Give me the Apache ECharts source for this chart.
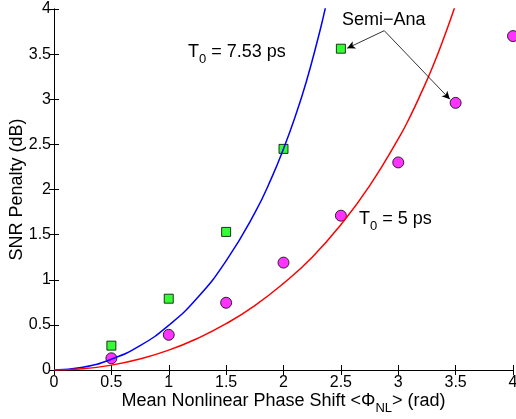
<!DOCTYPE html>
<html><head><meta charset="utf-8">
<script src="https://cdn.jsdelivr.net/npm/echarts@6/dist/echarts.min.js"></script>
<style>html,body{margin:0;padding:0;background:#fff}#c{width:516px;height:419px}</style>
</head><body><div id="c"></div>
<script>
// Measured points (Semi-Ana)
const squareX = [0.5, 1, 1.5, 2, 2.5];
const squareY = [0.27, 0.79, 1.53, 2.45, 3.56];
const circleX = [0.5, 1, 1.5, 2, 2.5, 3, 3.5, 4];
const circleY = [0.13, 0.39, 0.745, 1.19, 1.71, 2.30, 2.96, 3.70];
// Curves
const blueX = [0, 0.25, 0.5, 0.75, 1, 1.25, 1.5, 1.75, 1.9, 2, 2.1, 2.2, 2.3, 2.35, 2.4];
const blueY = [0, 0.03, 0.12, 0.27, 0.495, 0.80, 1.21, 1.74, 2.14, 2.45, 2.80, 3.20, 3.67, 3.93, 4.21];
const redX = [0, 0.25, 0.5, 0.75, 1, 1.25, 1.5, 1.75, 2, 2.25, 2.5, 2.75, 3, 3.1, 3.2, 3.3, 3.4, 3.5, 3.6];
const redY = [0, 0.013, 0.054, 0.123, 0.22, 0.35, 0.513, 0.714, 0.96, 1.25, 1.61, 2.04, 2.56, 2.80, 3.07, 3.36, 3.69, 4.05, 4.46];
const xTicks = [0, 0.5, 1, 1.5, 2, 2.5, 3, 3.5, 4];
const yTicks = [0, 0.5, 1, 1.5, 2, 2.5, 3, 3.5, 4];
// Annotation arrows: [from, to]
const arrowFrom = [2.878, 3.76];
const arrowTo1 = [2.555, 3.565];
const arrowTo2 = [3.45, 3.0];

const zip = (a, b) => a.map((v, i) => [v, b[i]]);
const FONT = 'Liberation Sans, Arial, Helvetica, sans-serif';

const chart = echarts.init(document.getElementById('c'), null, {renderer: 'canvas'});
const axisCommon = {
  type: 'value', min: 0, max: 4, interval: 0.5,
  axisLine: {lineStyle: {color: '#000', width: 1}},
  axisTick: {inside: true, length: 5, lineStyle: {color: '#000'}},
  splitLine: {show: false},
};
const sub = {a: {fontSize: 18, fontFamily: FONT, color: '#000'}, s: {fontSize: 13, fontFamily: FONT, color: '#000', padding: [14, 0, 0, 0]}};
chart.setOption({
  animation: false,
  grid: {left: 54, right: 3, top: 9, bottom: 49, outerBoundsMode: 'none', containLabel: false},
  xAxis: [
    Object.assign({}, axisCommon, {
      position: 'bottom',
      axisLabel: {color: '#000', fontSize: 16, fontFamily: FONT, margin: 5, formatter: v => (xTicks.indexOf(v) >= 0 ? String(v) : '')},
      name: '{a|Mean Nonlinear Phase Shift <Φ}{s|NL}{a|> (rad)}',
      nameLocation: 'middle', nameGap: 18, nameMoveOverlap: false,
      nameTextStyle: {rich: sub}
    }),
    Object.assign({}, axisCommon, {position: 'top', axisLabel: {show: false}})
  ],
  yAxis: [
    Object.assign({}, axisCommon, {
      position: 'left',
      axisLabel: {color: '#000', fontSize: 16, fontFamily: FONT, margin: 3, formatter: v => (yTicks.indexOf(v) >= 0 ? String(v) : '')},
      name: 'SNR Penalty (dB)', nameLocation: 'middle', nameGap: 28, nameMoveOverlap: false,
      nameTextStyle: {fontSize: 18, fontFamily: FONT, color: '#000'}
    }),
    Object.assign({}, axisCommon, {position: 'right', axisLabel: {show: false}})
  ],
  series: [
    {type: 'line', data: zip(blueX, blueY), smooth: true, symbol: 'none', clip: true,
     lineStyle: {color: '#0000ff', width: 1.5}},
    {type: 'line', data: zip(redX, redY), smooth: true, symbol: 'none', clip: true,
     lineStyle: {color: '#ff0000', width: 1.5}},
    {type: 'scatter', data: zip(squareX, squareY), symbol: 'rect', symbolSize: 9,
     itemStyle: {color: '#00ff00', borderColor: '#000', borderWidth: 1}},
    {type: 'scatter', data: zip(circleX, circleY), symbol: 'circle', symbolSize: 11, clip: false,
     itemStyle: {color: '#ff00ff', borderColor: '#000', borderWidth: 1},
     markLine: {
       silent: true, symbol: ['none', 'arrow'], symbolSize: [6, 8], animation: false,
       label: {show: false},
       lineStyle: {color: '#000', width: 0.8, type: 'solid'},
       data: [
         [{coord: arrowFrom}, {coord: arrowTo1}],
         [{coord: arrowFrom}, {coord: arrowTo2}]
       ]
     }}
  ],
  graphic: [
    {type: 'text', left: 188, top: 43, style: {
      text: '{a|T}{s|0}{a| = 7.53 ps}', fill: '#000', rich: sub}},
    {type: 'text', left: 359, top: 210, style: {
      text: '{a|T}{s|0}{a| = 5 ps}', fill: '#000', rich: sub}},
    {type: 'text', left: 342, top: 11, style: {text: 'Semi\u2212Ana', font: '18px ' + FONT, fill: '#000'}}
  ]
});
</script></body></html>
